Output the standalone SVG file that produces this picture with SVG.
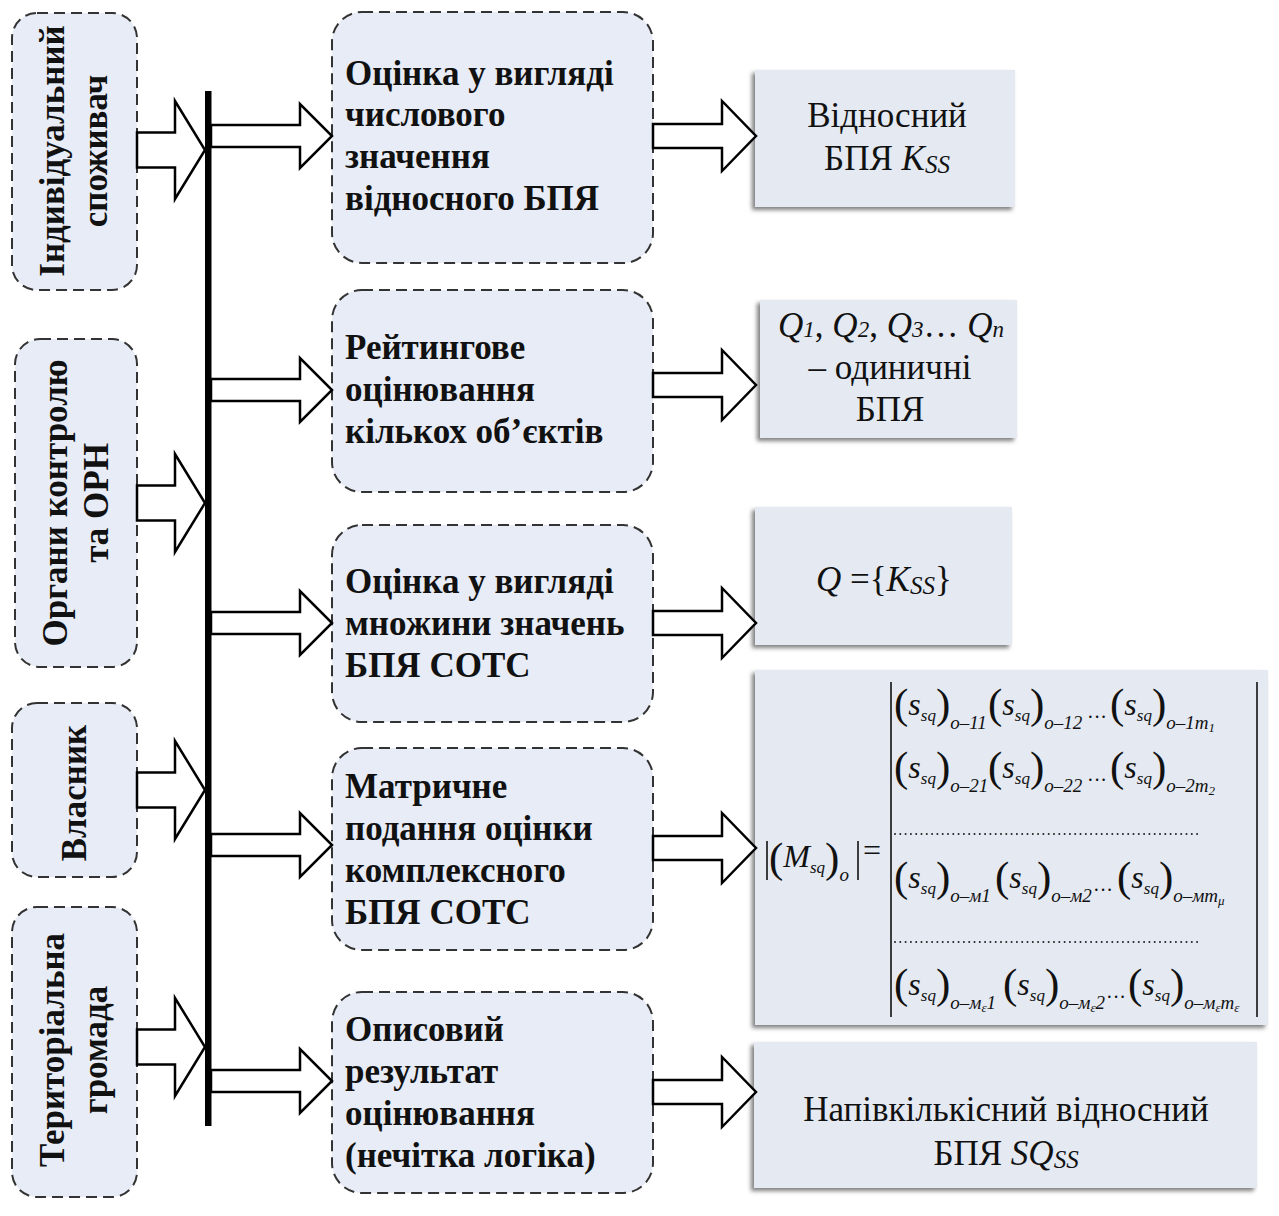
<svg xmlns="http://www.w3.org/2000/svg" width="1279" height="1216" viewBox="0 0 1279 1216">
<defs>
<filter id="sh" x="-10%" y="-10%" width="120%" height="130%">
<feDropShadow dx="-3" dy="3" stdDeviation="2" flood-color="#555" flood-opacity="0.75"/>
</filter>
</defs>
<style>
.dash{fill:#e7ecf6;stroke:#333;stroke-width:2;stroke-dasharray:11 6}
.out{fill:#e4e9f2;filter:url(#sh)}
.b{font-family:"Liberation Serif","Times New Roman",serif;font-weight:bold;font-size:35px;fill:#111}
.r{font-family:"Liberation Serif","Times New Roman",serif;font-size:35px;fill:#111}
.i{font-style:italic}
.arr{fill:#fff;stroke:#000;stroke-width:2.5;stroke-linejoin:miter}
.m{font-family:"Liberation Serif","Times New Roman",serif;fill:#111}
.mp{font-size:43px;font-style:normal}
.ms{font-size:32px;font-style:italic}
.mq{font-size:17px;font-style:italic}
.mo{font-size:19px;font-style:italic}
.mt{font-size:13px;font-style:italic}
.md{font-size:20px;font-style:normal}
.bar{stroke:#111;stroke-width:1.6}
.dot{stroke:#222;stroke-width:2;stroke-dasharray:0 5.3;stroke-linecap:round}
</style>

<!-- Left source nodes -->
<g id="src-consumer">
<rect class="dash" x="12" y="13" width="125" height="277" rx="25"/>
<text class="b" transform="translate(74.5,151) rotate(-90)" text-anchor="middle"><tspan x="0" y="-10.5">Індивідуальний</tspan><tspan x="0" y="32.5">споживач</tspan></text>
</g>
<g id="src-control">
<rect class="dash" x="15" y="339" width="122" height="328" rx="25"/>
<text class="b" transform="translate(76,503) rotate(-90)" text-anchor="middle"><tspan x="0" y="-9">Органи контролю</tspan><tspan x="0" y="32">та ОРН</tspan></text>
</g>
<g id="src-owner">
<rect class="dash" x="12" y="703" width="125" height="174" rx="25"/>
<text class="b" transform="translate(74.5,793) rotate(-90)" text-anchor="middle"><tspan x="0" y="11.5">Власник</tspan></text>
</g>
<g id="src-community">
<rect class="dash" x="12" y="907" width="125" height="290" rx="25"/>
<text class="b" transform="translate(74.5,1050) rotate(-90)" text-anchor="middle"><tspan x="0" y="-10.5">Територіальна</tspan><tspan x="0" y="32.5">громада</tspan></text>
</g>

<!-- Middle method nodes -->
<g id="m1">
<rect class="dash" x="332" y="12" width="321" height="251" rx="30"/>
<text class="b"><tspan x="345" y="85">Оцінка у вигляді</tspan><tspan x="345" y="126">числового</tspan><tspan x="345" y="168">значення</tspan><tspan x="345" y="210">відносного БПЯ</tspan></text>
</g>
<g id="m2">
<rect class="dash" x="332" y="290" width="321" height="202" rx="30"/>
<text class="b"><tspan x="345" y="359">Рейтингове</tspan><tspan x="345" y="401">оцінювання</tspan><tspan x="345" y="443">кількох об’єктів</tspan></text>
</g>
<g id="m3">
<rect class="dash" x="332" y="525" width="321" height="197" rx="30"/>
<text class="b"><tspan x="345" y="593">Оцінка у вигляді</tspan><tspan x="345" y="635">множини значень</tspan><tspan x="345" y="677">БПЯ СОТС</tspan></text>
</g>
<g id="m4">
<rect class="dash" x="332" y="748" width="321" height="202" rx="30"/>
<text class="b"><tspan x="345" y="798">Матричне</tspan><tspan x="345" y="840">подання оцінки</tspan><tspan x="345" y="882">комплексного</tspan><tspan x="345" y="924">БПЯ СОТС</tspan></text>
</g>
<g id="m5">
<rect class="dash" x="332" y="992" width="321" height="201" rx="30"/>
<text class="b"><tspan x="345" y="1041">Описовий</tspan><tspan x="345" y="1083">результат</tspan><tspan x="345" y="1125">оцінювання</tspan><tspan x="345" y="1167">(нечітка логіка)</tspan></text>
</g>

<!-- Right result nodes -->
<g id="r1">
<rect class="out" x="755" y="70" width="260" height="137"/>
<text class="r" text-anchor="middle"><tspan x="887" y="127">Відносний</tspan><tspan x="887" y="170">БПЯ <tspan class="i">K</tspan><tspan class="i" font-size="25" dy="3">SS</tspan></tspan></text>
</g>
<g id="r2">
<rect class="out" x="760" y="300" width="257" height="138"/>
<text class="r" text-anchor="middle" x="891" y="337"><tspan class="i">Q</tspan><tspan class="i" font-size="23">1</tspan>, <tspan class="i">Q</tspan><tspan class="i" font-size="23">2</tspan>, <tspan class="i">Q</tspan><tspan class="i" font-size="23">3</tspan>… <tspan class="i">Q</tspan><tspan class="i" font-size="23">n</tspan></text>
<text class="r" text-anchor="middle"><tspan x="890" y="379">– одиничні</tspan><tspan x="890" y="421">БПЯ</tspan></text>
</g>
<g id="r3">
<rect class="out" x="755" y="507" width="257" height="138"/>
<text class="r" x="816" y="591"><tspan class="i">Q</tspan> ={<tspan class="i">K</tspan><tspan class="i" font-size="25" dy="3">SS</tspan><tspan dy="-3">}</tspan></text>
</g>
<g id="r4">
<rect class="out" x="755" y="670" width="513" height="355"/>
<line class="bar" x1="767" y1="841" x2="767" y2="880"/>
<text class="m" x="769" y="872"><tspan class="mp">(</tspan><tspan class="ms" y="867">M</tspan><tspan class="mq" y="873">sq</tspan><tspan class="mp" y="872">)</tspan><tspan class="mo" y="881">o</tspan></text>
<line class="bar" x1="858" y1="841" x2="858" y2="880"/>
<text class="m" font-size="32" x="863" y="861">=</text>
<line class="bar" x1="891" y1="682" x2="891" y2="1017"/>
<line class="bar" x1="1257" y1="682" x2="1257" y2="1017"/>
<!-- row 1 -->
<text class="m" x="894" y="718"><tspan class="mp">(</tspan><tspan class="ms" y="715">s</tspan><tspan class="mq" y="721">sq</tspan><tspan class="mp" y="718">)</tspan><tspan class="mo" y="729">o–11</tspan><tspan class="mp" x="988" y="718">(</tspan><tspan class="ms" y="715">s</tspan><tspan class="mq" y="721">sq</tspan><tspan class="mp" y="718">)</tspan><tspan class="mo" y="729">o–12</tspan><tspan class="md" x="1087" y="724">···</tspan><tspan class="mp" x="1110" y="718">(</tspan><tspan class="ms" y="715">s</tspan><tspan class="mq" y="721">sq</tspan><tspan class="mp" y="718">)</tspan><tspan class="mo" y="729">o–1m</tspan><tspan class="mt" y="732">1</tspan></text>
<!-- row 2 -->
<text class="m" x="894" y="781"><tspan class="mp">(</tspan><tspan class="ms" y="778">s</tspan><tspan class="mq" y="784">sq</tspan><tspan class="mp" y="781">)</tspan><tspan class="mo" y="792">o–21</tspan><tspan class="mp" x="988" y="781">(</tspan><tspan class="ms" y="778">s</tspan><tspan class="mq" y="784">sq</tspan><tspan class="mp" y="781">)</tspan><tspan class="mo" y="792">o–22</tspan><tspan class="md" x="1087" y="787">···</tspan><tspan class="mp" x="1110" y="781">(</tspan><tspan class="ms" y="778">s</tspan><tspan class="mq" y="784">sq</tspan><tspan class="mp" y="781">)</tspan><tspan class="mo" y="792">o–2m</tspan><tspan class="mt" y="795">2</tspan></text>
<line class="dot" x1="895" y1="834" x2="1199" y2="834"/>
<!-- row 3 -->
<text class="m" x="894" y="891"><tspan class="mp">(</tspan><tspan class="ms" y="888">s</tspan><tspan class="mq" y="894">sq</tspan><tspan class="mp" y="891">)</tspan><tspan class="mo" y="902">o–м1</tspan><tspan class="mp" x="995" y="891">(</tspan><tspan class="ms" y="888">s</tspan><tspan class="mq" y="894">sq</tspan><tspan class="mp" y="891">)</tspan><tspan class="mo" y="902">o–м2</tspan><tspan class="md" x="1093" y="897">···</tspan><tspan class="mp" x="1117" y="891">(</tspan><tspan class="ms" y="888">s</tspan><tspan class="mq" y="894">sq</tspan><tspan class="mp" y="891">)</tspan><tspan class="mo" y="902">o–мm</tspan><tspan class="mt" y="905">μ</tspan></text>
<line class="dot" x1="895" y1="942" x2="1199" y2="942"/>
<!-- row 4 -->
<text class="m" x="894" y="998"><tspan class="mp">(</tspan><tspan class="ms" y="995">s</tspan><tspan class="mq" y="1001">sq</tspan><tspan class="mp" y="998">)</tspan><tspan class="mo" y="1009">o–м</tspan><tspan class="mt" y="1012">ε</tspan><tspan class="mo" y="1009">1</tspan><tspan class="mp" x="1003" y="998">(</tspan><tspan class="ms" y="995">s</tspan><tspan class="mq" y="1001">sq</tspan><tspan class="mp" y="998">)</tspan><tspan class="mo" y="1009">o–м</tspan><tspan class="mt" y="1012">ε</tspan><tspan class="mo" y="1009">2</tspan><tspan class="md" x="1106" y="1004">···</tspan><tspan class="mp" x="1128" y="998">(</tspan><tspan class="ms" y="995">s</tspan><tspan class="mq" y="1001">sq</tspan><tspan class="mp" y="998">)</tspan><tspan class="mo" y="1009">o–м</tspan><tspan class="mt" y="1012">ε</tspan><tspan class="mo" y="1009">m</tspan><tspan class="mt" y="1012">ε</tspan></text>
</g>
<g id="r5">
<rect class="out" x="754" y="1042" width="503" height="146"/>
<text class="r" text-anchor="middle"><tspan x="1006" y="1121">Напівкількісний відносний</tspan><tspan x="1006" y="1165">БПЯ <tspan class="i">SQ</tspan><tspan class="i" font-size="25" dy="3">SS</tspan></tspan></text>
</g>

<!-- Connectors -->
<g id="connectors">
<polygon class="arr" points="137,132.5 175,132.5 175,101 205,150 175,199 175,167.5 137,167.5"/>
<polygon class="arr" points="137,485.5 175,485.5 175,454 205,503 175,552 175,520.5 137,520.5"/>
<polygon class="arr" points="137,772.5 175,772.5 175,741 205,790 175,839 175,807.5 137,807.5"/>
<polygon class="arr" points="137,1029.5 175,1029.5 175,998 205,1047 175,1096 175,1064.5 137,1064.5"/>
<polygon class="arr" points="211,125 300,125 300,104 332,136 300,168 300,147 211,147"/>
<polygon class="arr" points="211,379 300,379 300,358 332,390 300,422 300,401 211,401"/>
<polygon class="arr" points="211,612 300,612 300,591 332,623 300,655 300,634 211,634"/>
<polygon class="arr" points="211,834 300,834 300,813 332,845 300,877 300,856 211,856"/>
<polygon class="arr" points="211,1070 300,1070 300,1049 332,1081 300,1113 300,1092 211,1092"/>
<polygon class="arr" points="653,124 722,124 722,101 756,136 722,171 722,148 653,148"/>
<polygon class="arr" points="653,373 722,373 722,350 756,385 722,420 722,397 653,397"/>
<polygon class="arr" points="653,611 722,611 722,588 756,623 722,658 722,635 653,635"/>
<polygon class="arr" points="653,836 722,836 722,813 756,848 722,883 722,860 653,860"/>
<polygon class="arr" points="653,1080 722,1080 722,1057 756,1092 722,1127 722,1104 653,1104"/>
<rect x="205" y="91" width="6.5" height="1035" fill="#000"/>
</g>
</svg>
